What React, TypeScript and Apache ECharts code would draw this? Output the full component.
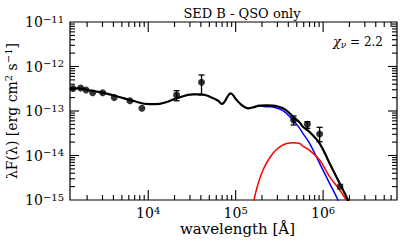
import React, { useEffect, useRef } from 'react';
import * as echarts from 'echarts';

// Axis ranges
const X_MIN = 1275;
const X_MAX = 7.0e6;
const Y_MIN = 1e-15;
const Y_MAX = 1e-11;

// Photometric data points (wavelength [Å], λF(λ))
const obsWavelength = [1380, 1690, 1945, 2318, 3015, 4090, 6180, 8470, 21100, 40700, 460000, 661000, 912000];
const obsFlux = [3.2e-13, 3.29e-13, 2.96e-13, 2.58e-13, 2.58e-13, 2.01e-13, 1.7e-13, 1.15e-13, 2.29e-13, 4.42e-13, 6.28e-14, 5.02e-14, 3.04e-14];

// Error bars (wavelength, low, high)
const errWavelength = [21100, 40700, 460000, 661000, 912000];
const errLow = [1.7e-13, 2.29e-13, 4.85e-14, 4.08e-14, 2.04e-14];
const errHigh = [2.86e-13, 6.44e-13, 7.73e-14, 5.75e-14, 4.3e-14];

// Square point
const sqWavelength = [1.57e6];
const sqFlux = [1.99e-15];

// Total model (black)
const totalWavelength = [1275, 1630, 2158, 3013, 4276, 6643, 10270, 12240, 15920, 21100, 32630, 40740, 50600, 62500, 69500, 88100, 100300, 111400, 123700, 138600, 156800, 188400, 226500, 267300, 302600, 347700, 393500, 452200, 539500, 587600, 701000, 912000, 1186000, 1544000, 1920000, 2100000];
const totalFlux = [3.21e-13, 3.24e-13, 2.89e-13, 2.58e-13, 2.17e-13, 1.7e-13, 1.42e-13, 1.42e-13, 1.57e-13, 1.93e-13, 2.37e-13, 2.37e-13, 2.09e-13, 1.72e-13, 1.44e-13, 2.5e-13, 1.86e-13, 1.49e-13, 1.26e-13, 1.15e-13, 1.2e-13, 1.32e-13, 1.34e-13, 1.32e-13, 1.26e-13, 1.15e-13, 9.75e-14, 7.45e-14, 5.52e-14, 4.44e-14, 3.37e-14, 1.88e-14, 6.68e-15, 2.37e-15, 1.0e-15, 6e-16];

// Blue component
const blueWavelength = [156800, 188400, 225000, 279000, 347700, 452200, 539500, 587600, 701000, 912000, 1186000, 1476000, 1600000];
const blueFlux = [1.2e-13, 1.29e-13, 1.25e-13, 1.2e-13, 1.02e-13, 6.28e-14, 4.08e-14, 3.15e-14, 1.88e-14, 6.68e-15, 2.37e-15, 1.0e-15, 6e-16];

// Red component
const redWavelength = [158000, 178700, 205400, 232500, 267300, 302600, 347700, 393500, 452200, 539500, 587600, 701000, 912000, 1186000, 1544000, 1841000, 2000000];
const redFlux = [8e-16, 2.17e-15, 4.72e-15, 7.52e-15, 1.12e-14, 1.44e-14, 1.72e-14, 1.88e-14, 1.94e-14, 1.86e-14, 1.63e-14, 1.3e-14, 7.93e-15, 3.34e-15, 1.68e-15, 1.0e-15, 7e-16];

const FONT = '"DejaVu Serif", serif';

function decadeTicks(min: number, max: number) {
  const major: number[] = [];
  const minor: number[] = [];
  const d0 = Math.floor(Math.log10(min));
  const d1 = Math.ceil(Math.log10(max));
  for (let d = d0; d <= d1; d++) {
    for (let m = 1; m <= 9; m++) {
      const v = m * Math.pow(10, d);
      if (v < min * 1.0001 || v > max * 0.9999) continue;
      if (m === 1) major.push(v);
      else minor.push(v);
    }
  }
  return { major, minor };
}

const zip = (a: number[], b: number[]) => a.map((v, i) => [v, b[i]]);

function supLabel(v: number) {
  const e = Math.log10(v);
  const r = Math.round(e);
  if (Math.abs(e - r) > 1e-6) return '';
  const s = r < 0 ? '\u2212' + String(-r) : String(r);
  return `{b|10}{s|${s}}`;
}

const labelRich = {
  b: { fontFamily: FONT, fontSize: 14, lineHeight: 16, color: '#000' },
  s: { fontFamily: FONT, fontSize: 10, lineHeight: 10, verticalAlign: 'top', color: '#000' },
};

export default function App() {
  const ref = useRef<HTMLDivElement>(null);
  useEffect(() => {
    if (!ref.current) return;
    const chart = echarts.init(ref.current, null, { renderer: 'svg' });
    const xt = decadeTicks(X_MIN, X_MAX);
    const yt = decadeTicks(Y_MIN, Y_MAX);
    const xTickData = [
      ...xt.major.map((v) => [v, Y_MIN, 10]),
      ...xt.minor.map((v) => [v, Y_MIN, 5]),
    ];
    const yTickData = [
      ...yt.major.map((v) => [X_MIN, v, 9]),
      ...yt.minor.map((v) => [X_MIN, v, 5]),
    ];
    const tickStyle = { stroke: '#000', lineWidth: 1.1 };
    chart.setOption({
      animation: false,
      title: {
        text: 'SED B - QSO only',
        left: 237,
        top: 2,
        textAlign: 'center',
        textStyle: { fontFamily: FONT, fontSize: 13, fontWeight: 'normal', color: '#000' },
      },
      grid: {
        left: 70,
        top: 22,
        right: 10,
        bottom: 42,
        containLabel: false,
        outerBoundsMode: 'none',
        show: true,
        borderColor: '#000',
        borderWidth: 1.2,
        backgroundColor: 'transparent',
      },
      xAxis: {
        type: 'log',
        min: X_MIN,
        max: X_MAX,
        axisLine: { show: false },
        axisTick: { show: false },
        splitLine: { show: false },
        axisLabel: { formatter: supLabel, rich: labelRich, margin: 5, showMinLabel: false, showMaxLabel: false },
        name: 'wavelength [Å]',
        nameLocation: 'middle',
        nameGap: 21,
        nameMoveOverlap: false,
        nameTextStyle: { fontFamily: FONT, fontSize: 15, lineHeight: 15, color: '#000', padding: [0, 0, 0, 8] },
      },
      yAxis: {
        type: 'log',
        min: Y_MIN,
        max: Y_MAX,
        axisLine: { show: false },
        axisTick: { show: false },
        splitLine: { show: false },
        axisLabel: { formatter: supLabel, rich: labelRich, margin: 6 },
        name: 'λF(λ) [erg cm{s|2} s{s|\u22121}]',
        nameLocation: 'middle',
        nameRotate: 90,
        nameGap: 49,
        nameMoveOverlap: false,
        nameTextStyle: {
          fontFamily: FONT,
          fontSize: 14,
          color: '#000',
          rich: {
            s: { fontFamily: FONT, fontSize: 10, lineHeight: 10, verticalAlign: 'top', color: '#000' },
          },
          lineHeight: 18,
        },
      },
      graphic: [
        {
          type: 'text',
          right: 24,
          top: 35,
          style: {
            text: '{c|χ}{n|ν}{e| = 2.2}',
            rich: {
              c: { fontFamily: FONT, fontSize: 13, fontStyle: 'italic', lineHeight: 16, fill: '#000' },
              n: { fontFamily: FONT, fontSize: 9, fontStyle: 'italic', lineHeight: 9, verticalAlign: 'bottom', fill: '#000' },
              e: { fontFamily: FONT, fontSize: 12, lineHeight: 16, fill: '#000' },
            },
          },
        },
      ],
      series: [
        {
          type: 'custom',
          name: 'xticks',
          silent: true,
          clip: false,
          z: 1,
          data: xTickData,
          renderItem: (params: any, api: any) => {
            const v = api.value(0);
            const len = api.value(2);
            const b = api.coord([v, Y_MIN]);
            const t = api.coord([v, Y_MAX]);
            return {
              type: 'group',
              children: [
                { type: 'line', shape: { x1: b[0], y1: b[1], x2: b[0], y2: b[1] - len }, style: tickStyle },
                { type: 'line', shape: { x1: t[0], y1: t[1], x2: t[0], y2: t[1] + len }, style: tickStyle },
              ],
            };
          },
        },
        {
          type: 'custom',
          name: 'yticks',
          silent: true,
          clip: false,
          z: 1,
          data: yTickData,
          renderItem: (params: any, api: any) => {
            const v = api.value(1);
            const len = api.value(2);
            const l = api.coord([X_MIN, v]);
            const r = api.coord([X_MAX, v]);
            return {
              type: 'group',
              children: [
                { type: 'line', shape: { x1: l[0], y1: l[1], x2: l[0] + len, y2: l[1] }, style: tickStyle },
                { type: 'line', shape: { x1: r[0], y1: r[1], x2: r[0] - len, y2: r[1] }, style: tickStyle },
              ],
            };
          },
        },
        {
          type: 'line',
          name: 'blue',
          data: zip(blueWavelength, blueFlux),
          showSymbol: false,
          symbol: 'none',
          smooth: 0.4,
          clip: true,
          z: 2,
          lineStyle: { color: '#0000ff', width: 1.5 },
        },
        {
          type: 'line',
          name: 'red',
          data: zip(redWavelength, redFlux),
          showSymbol: false,
          symbol: 'none',
          smooth: 0.4,
          clip: true,
          z: 2,
          lineStyle: { color: '#ff0000', width: 1.5 },
        },
        {
          type: 'line',
          name: 'total',
          data: zip(totalWavelength, totalFlux),
          showSymbol: false,
          symbol: 'none',
          smooth: 0.4,
          clip: true,
          z: 3,
          lineStyle: { color: '#000', width: 2.2 },
        },
        {
          type: 'custom',
          name: 'errors',
          silent: true,
          z: 4,
          data: errWavelength.map((w, i) => [w, errLow[i], errHigh[i]]),
          renderItem: (params: any, api: any) => {
            const w = api.value(0);
            const p1 = api.coord([w, api.value(1)]);
            const p2 = api.coord([w, api.value(2)]);
            const c = 3;
            const st = { stroke: '#000', lineWidth: 1.3 };
            return {
              type: 'group',
              children: [
                { type: 'line', shape: { x1: p1[0], y1: p1[1], x2: p2[0], y2: p2[1] }, style: st },
                { type: 'line', shape: { x1: p1[0] - c, y1: p1[1], x2: p1[0] + c, y2: p1[1] }, style: st },
                { type: 'line', shape: { x1: p2[0] - c, y1: p2[1], x2: p2[0] + c, y2: p2[1] }, style: st },
              ],
            };
          },
        },
        {
          type: 'scatter',
          name: 'data',
          data: zip(obsWavelength, obsFlux),
          symbol: 'circle',
          symbolSize: 7,
          z: 5,
          itemStyle: { color: '#000' },
        },
        {
          type: 'scatter',
          name: 'square',
          data: zip(sqWavelength, sqFlux),
          symbol: 'rect',
          symbolSize: 6,
          z: 5,
          itemStyle: { color: '#000' },
        },
      ],
    });
    return () => chart.dispose();
  }, []);
  return <div ref={ref} style={{ position: 'absolute', left: 0, top: 0, width: 407, height: 242 }} />;
}
